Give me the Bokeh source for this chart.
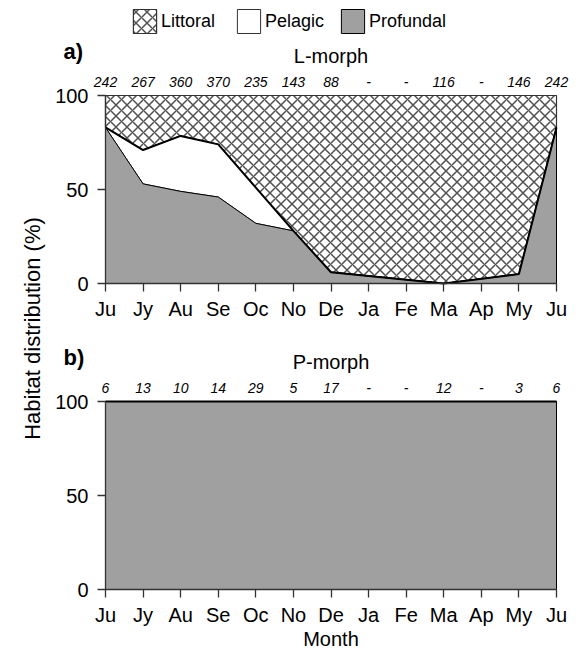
import math
from bokeh.plotting import figure
from bokeh.models import (Range1d, FixedTicker, Label, LabelSet, ColumnDataSource,
                          Legend, LegendItem, LinearAxis)
from bokeh.core.properties import value
from bokeh.embed import file_html
from bokeh.resources import INLINE

# ---------------- data ----------------
months = ["Ju", "Jy", "Au", "Se", "Oc", "No", "De", "Ja", "Fe", "Ma", "Ap", "My", "Ju"]
counts_L = ["242", "267", "360", "370", "235", "143", "88", "-", "-", "116", "-", "146", "242"]
counts_P = ["6", "13", "10", "14", "29", "5", "17", "-", "-", "12", "-", "3", "6"]

# month positions (index into months) where samples exist
sampled = [0, 1, 2, 3, 4, 5, 6, 9, 11, 12]
L_profundal = [83, 53, 49, 46, 32, 28, 6, 0, 5, 83]
L_pelagic = [0, 18, 29.5, 28, 19, 0, 0, 0, 0, 0]
L_littoral = [100 - a - b for a, b in zip(L_profundal, L_pelagic)]

P_profundal = [100, 100, 100, 100, 100, 100, 100, 100, 100, 100]
P_pelagic = [0, 0, 0, 0, 0, 0, 0, 0, 0, 0]
P_littoral = [0, 0, 0, 0, 0, 0, 0, 0, 0, 0]

FONT = "Liberation Sans"
GRAY = "#a0a0a0"
AX = "#333333"

W, H = 580, 652
# panel geometry (pixels): x 0 -> 105, 12 -> 556 ; panel a 0 -> 283, 100 -> 95 ; panel b 0 -> 589
PX = (556 - 105) / 12.0
PY = (283 - 95) / 100.0

p = figure(width=W, height=H, toolbar_location=None, output_backend="svg",
           x_range=Range1d(-105 / PX, 12 + (W - 556) / PX),
           y_range=Range1d(-(H - 283) / PY, 283 / PY),
           x_axis_location=None, y_axis_location=None,
           min_border=0, outline_line_color=None,
           background_fill_color="white", border_fill_color="white")
p.extra_y_ranges = {"b": Range1d(-(H - 589) / PY, 589 / PY)}
p.grid.visible = False


def style_axis(ax, standoff):
    ax.axis_line_color = AX
    ax.axis_line_width = 1.3
    ax.major_tick_line_color = AX
    ax.major_tick_line_width = 1.3
    ax.major_tick_out = 8
    ax.major_tick_in = 0
    ax.minor_tick_line_color = None
    ax.major_label_text_font = FONT
    ax.major_label_text_font_size = "20px"
    ax.major_label_text_color = "black"
    ax.major_label_standoff = standoff


def panel(rng, letter, title, counts, prof, pel, lit, legend=False):
    x = sampled
    pel_top = [a + b for a, b in zip(prof, pel)]
    lit_top = [a + b + c for a, b, c in zip(prof, pel, lit)]
    rev = list(reversed(x))
    kw = {} if rng is None else {"y_range_name": rng}

    r_lit = p.patch(x + rev, pel_top + list(reversed(lit_top)), fill_color="white",
                    hatch_pattern="diagonal_cross", hatch_scale=11, hatch_weight=1.5,
                    hatch_color="#505050", line_color=AX, line_width=1.2, **kw)
    r_pel = p.patch(x + rev, prof + list(reversed(pel_top)), fill_color="white",
                    line_color=AX, line_width=1, **kw)
    r_prof = p.patch(x + rev, [0] * len(x) + list(reversed(prof)), fill_color=GRAY,
                     line_color="black", line_width=1, **kw)
    p.line(x, pel_top, line_color="black", line_width=2, **kw)

    yax = LinearAxis(fixed_location=0, bounds=(0, 100),
                     ticker=FixedTicker(ticks=[0, 50, 100]), **kw)
    xax = LinearAxis(fixed_location=0, bounds=(0, 12),
                     ticker=FixedTicker(ticks=list(range(13))),
                     major_label_overrides={i: m for i, m in enumerate(months)}, **kw)
    style_axis(yax, 9)
    style_axis(xax, 6)
    p.add_layout(yax, "left")
    p.add_layout(xax, "below")

    src = ColumnDataSource(dict(x=list(range(13)), y=[100] * 13, t=counts))
    p.add_layout(LabelSet(x="x", y="y", text="t", source=src, y_offset=9,
                          text_align="center", text_baseline="alphabetic",
                          text_font=value(FONT), text_font_style="italic",
                          text_font_size="14px", text_color="black", **kw))
    p.add_layout(Label(x=6, y=100, y_offset=40, text=title, text_align="center",
                       text_baseline="alphabetic", text_font=FONT,
                       text_font_size="20px", text_color="black", **kw))
    p.add_layout(Label(x=0, y=100, x_offset=-42, y_offset=44, text=letter,
                       text_align="left", text_baseline="alphabetic", text_font=FONT,
                       text_font_style="bold", text_font_size="22px", text_color="black", **kw))

    if legend:
        lg = Legend(items=[LegendItem(label="Littoral", renderers=[r_lit]),
                           LegendItem(label="Pelagic", renderers=[r_pel]),
                           LegendItem(label="Profundal", renderers=[r_prof])],
                    location=(130, H - 36), orientation="horizontal",
                    glyph_width=29, glyph_height=30, label_standoff=2,
                    label_width=59, spacing=14, padding=0, margin=0,
                    border_line_color=None, background_fill_alpha=0,
                    label_text_font=FONT, label_text_font_size="18px",
                    label_text_color="black")
        p.add_layout(lg)


panel(None, "a)", "L-morph", counts_L, L_profundal, L_pelagic, L_littoral, legend=True)
panel("b", "b)", "P-morph", counts_P, P_profundal, P_pelagic, P_littoral)

# axis titles
p.add_layout(Label(x=-73 / PX, y=(283 - 328) / PY, text="Habitat distribution (%)",
                   angle=math.pi / 2, text_align="center", text_baseline="middle",
                   text_font=FONT, text_font_size="22px", text_color="black"))
p.add_layout(Label(x=6, y=0, y_offset=-49, y_range_name="b", text="Month",
                   text_align="center", text_baseline="middle",
                   text_font=FONT, text_font_size="20px", text_color="black"))

open("out.html", "w").write(file_html(p, INLINE))
